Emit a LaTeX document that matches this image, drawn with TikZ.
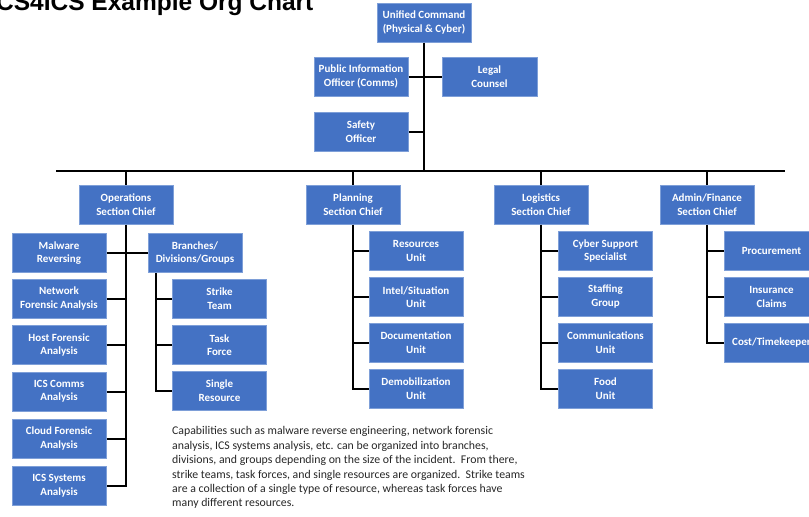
\documentclass[tikz,border=0pt]{standalone}
\usepackage{fontspec}
\setmainfont{Carlito}
\newfontfamily\titlefont{Liberation Sans}
\definecolor{boxblue}{HTML}{4472C4}
\definecolor{boxedge}{HTML}{7E9FD8}
\definecolor{bodytext}{HTML}{262626}
\begin{document}
\begin{tikzpicture}[x=1pt,y=-1pt,
  orgbox/.style={rectangle, fill=boxblue, draw=boxedge, line width=1pt,
    text=white, font=\fontsize{11}{13.5}\selectfont\bfseries, align=center,
    minimum width=94pt, minimum height=39pt, inner sep=0pt},
  link/.style={line width=2pt, draw=black}]
\useasboundingbox (0,0) rectangle (809,517);
% title
\node[anchor=base west, inner sep=0pt, font=\titlefont\fontsize{24.5}{27}\selectfont\bfseries] (title) at (-4,10) {CS4ICS Example Org Chart};
% command staff
\node[orgbox] (uc) at (424,22.5) {Unified Command\\(Physical \& Cyber)};
\node[orgbox] (pio) at (361,76.5) {Public Information\\Officer (Comms)};
\node[orgbox, minimum width=95pt] (legal) at (489.5,76.5) {Legal\\Counsel};
\node[orgbox] (safety) at (361,131.5) {Safety\\Officer};
% section chiefs
\node[orgbox] (ops) at (126,204.5) {Operations\\Section Chief};
\node[orgbox] (plan) at (353,204.5) {Planning\\Section Chief};
\node[orgbox] (log) at (541,204.5) {Logistics\\Section Chief};
\node[orgbox] (adm) at (707,204.5) {Admin/Finance\\Section Chief};
% operations
\node[orgbox] (malware) at (59,253) {Malware\\Reversing};
\node[orgbox] (network) at (59,298.5) {Network\\Forensic Analysis};
\node[orgbox] (host) at (59,345) {Host Forensic\\Analysis};
\node[orgbox] (icscomms) at (59,391.5) {ICS Comms\\Analysis};
\node[orgbox] (cloud) at (59,438.5) {Cloud Forensic\\Analysis};
\node[orgbox] (icssys) at (59,486) {ICS Systems\\Analysis};
\node[orgbox] (branches) at (195,253) {Branches/\\Divisions/Groups};
\node[orgbox] (strike) at (219.5,298.5) {Strike\\Team};
\node[orgbox] (task) at (219.5,345) {Task\\Force};
\node[orgbox] (single) at (219.5,390.5) {Single\\Resource};
% planning
\node[orgbox] (resources) at (416,251) {Resources\\Unit};
\node[orgbox] (intel) at (416,297) {Intel/Situation\\Unit};
\node[orgbox] (doc) at (416,342.5) {Documentation\\Unit};
\node[orgbox] (demob) at (416,388.5) {Demobilization\\Unit};
% logistics
\node[orgbox] (cyber) at (605.5,251) {Cyber Support\\Specialist};
\node[orgbox] (staffing) at (605.5,296.5) {Staffing\\Group};
\node[orgbox] (comms) at (605.5,342.5) {Communications\\Unit};
\node[orgbox] (food) at (605.5,388.5) {Food\\Unit};
% admin/finance
\node[orgbox] (proc) at (771.5,251) {Procurement};
\node[orgbox] (ins) at (771.5,297) {Insurance\\Claims};
\node[orgbox] (cost) at (771.5,342.5) {Cost/Timekeeper};
% note
\node[anchor=north west, inner sep=0pt, align=left, text=bodytext,
  font=\fontsize{11.8}{14.4}\selectfont] (note) at (172,426.5)
  {Capabilities such as malware reverse engineering, network forensic\\
   analysis, ICS systems analysis, etc. can be organized into branches,\\
   divisions, and groups depending on the size of the incident.\ \ From there,\\
   strike teams, task forces, and single resources are organized.\ \ Strike teams\\
   are a collection of a single type of resource, whereas task forces have\\
   many different resources.};
% connectors
\coordinate (barL) at (56,171);
\coordinate (barR) at (785,171);
\draw[link] (barL) -- (barR);
\draw[link] (uc.south) -- (uc.south |- barL);
\draw[link] (pio.east) -- (legal.west);
\draw[link] (safety.east) -- (safety.east -| uc.south);
\foreach \c in {ops,plan,log,adm}{
  \draw[link] (\c.north) -- (\c.north |- barL);
}
% operations tree
\draw[link] (ops.south) -- (ops.south |- icssys.east) -- (icssys.east);
\draw[link] (malware.east) -- (branches.west);
\foreach \b in {network,host,icscomms,cloud}{
  \draw[link] (\b.east) -- (\b.east -| ops.south);
}
\coordinate (bv) at ([xshift=8pt]branches.south west);
\draw[link] (bv) -- (bv |- single.west) -- (single.west);
\foreach \b in {strike,task}{
  \draw[link] (\b.west) -- (\b.west -| bv);
}
% planning tree
\draw[link] (plan.south) -- (plan.south |- demob.west) -- (demob.west);
\foreach \b in {resources,intel,doc}{
  \draw[link] (\b.west) -- (\b.west -| plan.south);
}
% logistics tree
\draw[link] (log.south) -- (log.south |- food.west) -- (food.west);
\foreach \b in {cyber,staffing,comms}{
  \draw[link] (\b.west) -- (\b.west -| log.south);
}
% admin tree
\draw[link] (adm.south) -- (adm.south |- cost.west) -- (cost.west);
\foreach \b in {proc,ins}{
  \draw[link] (\b.west) -- (\b.west -| adm.south);
}
\end{tikzpicture}
\end{document}
